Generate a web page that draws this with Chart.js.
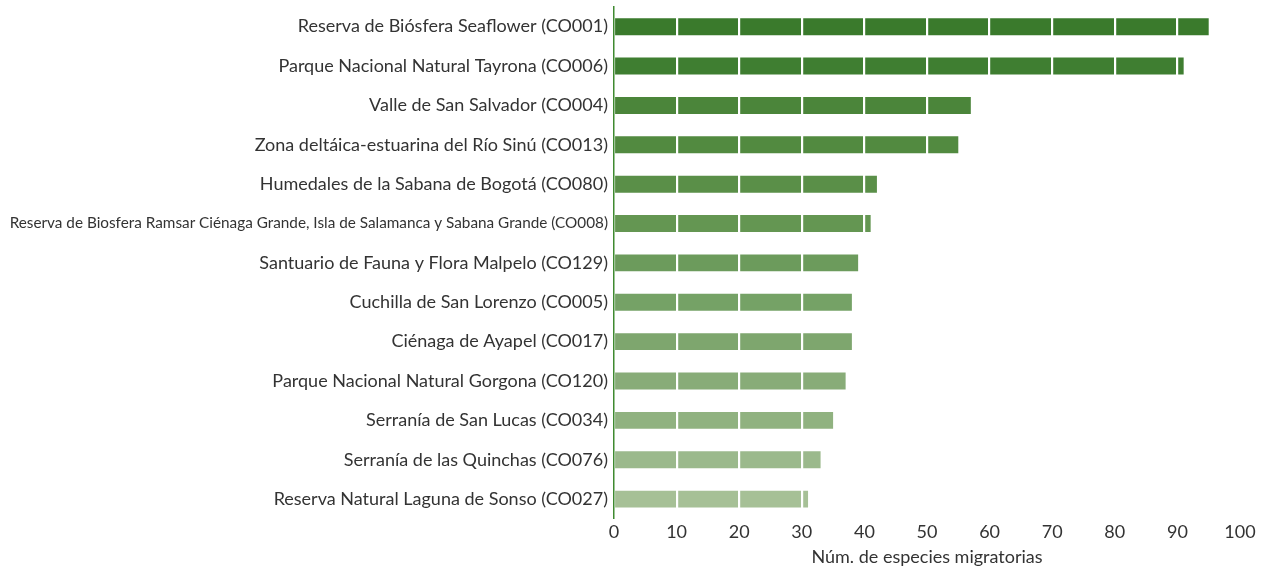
<!DOCTYPE html>
<html>
<head>
<meta charset="utf-8">
<script src="https://cdn.jsdelivr.net/npm/chart.js@4"></script>
<style>
  html, body { margin: 0; padding: 0; background: #fff; }
  #wrap { width: 1264px; height: 568px; position: relative; }
</style>
</head>
<body>
<div id="wrap"><canvas id="canvas"></canvas></div>
<script>
// datos del grafico
var sitios = [
  'Reserva de Biósfera Seaflower (CO001)',
  'Parque Nacional Natural Tayrona (CO006)',
  'Valle de San Salvador (CO004)',
  'Zona deltáica-estuarina del Río Sinú (CO013)',
  'Humedales de la Sabana de Bogotá (CO080)',
  'Reserva de Biosfera Ramsar Ciénaga Grande, Isla de Salamanca y Sabana Grande (CO008)',
  'Santuario de Fauna y Flora Malpelo (CO129)',
  'Cuchilla de San Lorenzo (CO005)',
  'Ciénaga de Ayapel (CO017)',
  'Parque Nacional Natural Gorgona (CO120)',
  'Serranía de San Lucas (CO034)',
  'Serranía de las Quinchas (CO076)',
  'Reserva Natural Laguna de Sonso (CO027)'
];
var especies = [95, 91, 57, 55, 42, 41, 39, 38, 38, 37, 35, 33, 31];
var colores = ['#3a7a2c', '#3f7e31', '#4b853a', '#528a40', '#5a8f48', '#649652', '#6c9b5c',
               '#75a266', '#7ea66e', '#88ac78', '#90b280', '#9bb98c', '#a6c096'];
var ticksX = [0, 10, 20, 30, 40, 50, 60, 70, 80, 90, 100];

var canvas = document.getElementById('canvas');
var chart = new Chart(canvas, {
  type: 'bar',
  data: {
    labels: sitios,
    datasets: [{
      data: especies,
      backgroundColor: colores,
      borderWidth: 0,
      categoryPercentage: 1,
      barPercentage: 0.43
    }]
  },
  options: {
    indexAxis: 'y',
    responsive: true,
    maintainAspectRatio: false,
    animation: false,
    layout: { padding: { top: 7, right: 24, left: 6, bottom: 0 } },
    plugins: { legend: { display: false }, tooltip: { enabled: false } },
    scales: {
      x: {
        min: 0, max: 100,
        afterBuildTicks: function (s) { s.ticks = ticksX.map(function (v) { return { value: v }; }); },
        grid: {
          z: 1,
          color: function (ctx) { return ctx.tick && ctx.tick.value === 0 ? 'rgba(0,0,0,0)' : '#ffffff'; },
          lineWidth: 2.2,
          drawTicks: false
        },
        border: { display: false },
        ticks: { color: '#333', font: { family: 'Lato', size: 18 }, padding: 3 },
        title: {
          display: true,
          text: 'Núm. de especies migratorias',
          color: '#333',
          font: { family: 'Lato', size: 18 },
          padding: { top: 0, bottom: 0 }
        }
      },
      y: {
        grid: { display: false, drawTicks: false },
        border: { color: '#3f8a30', width: 1.5 },
        ticks: {
          color: '#333',
          padding: 6,
          font: function (ctx) {
            return { family: 'Lato', size: ctx.index === 5 ? 15.3 : 18 };
          }
        },
        afterFit: function (s) {
          s.width = 608;
          s.paddingTop = 0;
          s.paddingBottom = 0;
        }
      }
    }
  }
});
</script>
</body>
</html>
